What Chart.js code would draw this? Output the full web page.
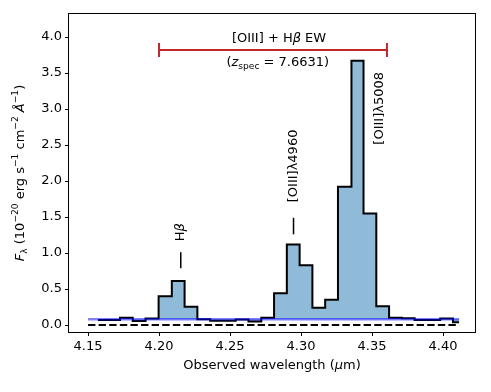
<!DOCTYPE html>
<html>
<head>
<meta charset="utf-8">
<script src="https://cdn.jsdelivr.net/npm/chart.js@4"></script>
<style>
  body { margin: 0; background: #fff; }
  canvas { display: block; }
</style>
</head>
<body>
<canvas id="spec" width="491" height="392"></canvas>
<script>
// bin edges (um) and flux per bin (1e-20 erg/s/cm2/A)
const binEdges = [4.157, 4.1725, 4.1815, 4.1905, 4.1997, 4.209, 4.218, 4.227, 4.236, 4.245,
  4.254, 4.263, 4.272, 4.281, 4.290, 4.299, 4.308, 4.317, 4.326, 4.3355, 4.344, 4.353, 4.362,
  4.371, 4.380, 4.389, 4.398, 4.407, 4.4113];
const flux = [0.07, 0.10, 0.055, 0.09, 0.40, 0.61, 0.255, 0.08, 0.06, 0.06, 0.075, 0.05, 0.10,
  0.44, 1.12, 0.83, 0.24, 0.35, 1.92, 3.67, 1.55, 0.26, 0.10, 0.095, 0.07, 0.07, 0.09, 0.04];
const contX = [4.15, 4.4113];
const contY = [0.08, 0.08];
const zeroY = [0, 0];
const xTicks = [4.15, 4.20, 4.25, 4.30, 4.35, 4.40];
const yTicks = [0, 0.5, 1, 1.5, 2, 2.5, 3, 3.5, 4];
const ewRange = [4.20, 4.3605];
const ewLevel = 3.82;
const lines = [
  { name: 'Hβ', x: 4.2153, labelY: 1.29, tick: [0.79, 1.01] },
  { name: '[OIII]λ4960', x: 4.2947, labelY: 2.21, tick: [1.26, 1.49] },
  { name: '[OIII]λ5008', x: 4.3553, labelY: 3.01, tick: null }
];

const FONT = 'DejaVu Sans';

const stepPts = flux.map((v, i) => ({ x: binEdges[i], y: v }));
stepPts.push({ x: binEdges[binEdges.length - 1], y: flux[flux.length - 1] });

// draws runs of mixed text (normal / italic / sup / sub) centred at 0,0
function drawRuns(ctx, runs, size) {
  const parts = runs.map(r => {
    const small = r.s === 'sup' || r.s === 'sub';
    const fs = small ? size * 0.7 : size;
    const font = (r.s === 'i' ? 'italic ' : '') + fs + 'px "' + FONT + '"';
    ctx.font = font;
    return { t: r.t, font, w: ctx.measureText(r.t).width,
      dy: r.s === 'sup' ? -size * 0.42 : r.s === 'sub' ? size * 0.25 : 0 };
  });
  const total = parts.reduce((a, p) => a + p.w, 0);
  let x = -total / 2;
  ctx.textBaseline = 'middle';
  ctx.textAlign = 'left';
  parts.forEach(p => {
    ctx.font = p.font;
    ctx.fillText(p.t, x, p.dy);
    x += p.w;
  });
}

const extras = {
  id: 'extras',
  afterDatasetsDraw(chart) {
    const { ctx, chartArea: a, scales: { x, y } } = chart;
    ctx.save();
    ctx.fillStyle = '#000';
    ctx.strokeStyle = '#000';

    // EW bar
    const x0 = x.getPixelForValue(ewRange[0]), x1 = x.getPixelForValue(ewRange[1]);
    const yb = y.getPixelForValue(ewLevel);
    ctx.strokeStyle = '#c0282d';
    ctx.lineWidth = 2;
    ctx.beginPath();
    ctx.moveTo(x0, yb); ctx.lineTo(x1, yb);
    ctx.moveTo(x0, yb - 7); ctx.lineTo(x0, yb + 7);
    ctx.moveTo(x1, yb - 7); ctx.lineTo(x1, yb + 7);
    ctx.stroke();

    ctx.save();
    ctx.translate(x.getPixelForValue(4.2845), y.getPixelForValue(3.98));
    drawRuns(ctx, [{ t: '[OIII] + H', s: 'n' }, { t: 'β', s: 'i' }, { t: ' EW', s: 'n' }], 13);
    ctx.restore();
    ctx.save();
    ctx.translate(x.getPixelForValue(4.2836), y.getPixelForValue(3.64));
    drawRuns(ctx, [{ t: '(', s: 'n' }, { t: 'z', s: 'i' }, { t: 'spec', s: 'sub' }, { t: ' = 7.6631)', s: 'n' }], 13);
    ctx.restore();

    // line labels
    ctx.strokeStyle = '#000';
    ctx.lineWidth = 1.5;
    lines.forEach(l => {
      const px = x.getPixelForValue(l.x);
      if (l.tick) {
        ctx.beginPath();
        ctx.moveTo(px, y.getPixelForValue(l.tick[0]));
        ctx.lineTo(px, y.getPixelForValue(l.tick[1]));
        ctx.stroke();
      }
      ctx.save();
      ctx.translate(px, y.getPixelForValue(l.labelY));
      ctx.rotate(-Math.PI / 2);
      if (l.name === 'Hβ') {
        drawRuns(ctx, [{ t: 'H', s: 'n' }, { t: 'β', s: 'i' }], 13);
      } else {
        drawRuns(ctx, [{ t: l.name, s: 'n' }], 13);
      }
      ctx.restore();
    });

    // spines
    ctx.strokeStyle = '#000';
    ctx.lineWidth = 1;
    ctx.strokeRect(Math.round(a.left) - 0.5, Math.round(a.top) - 0.5,
      Math.round(a.right - a.left) + 1, Math.round(a.bottom - a.top) + 1);

    // axis titles
    ctx.save();
    ctx.translate((a.left + a.right) / 2, 366);
    drawRuns(ctx, [{ t: 'Observed wavelength (', s: 'n' }, { t: 'μ', s: 'i' }, { t: 'm)', s: 'n' }], 13);
    ctx.restore();
    ctx.save();
    ctx.translate(21, (a.top + a.bottom) / 2);
    ctx.rotate(-Math.PI / 2);
    drawRuns(ctx, [
      { t: 'F', s: 'i' }, { t: 'λ', s: 'sub' }, { t: ' (10', s: 'n' }, { t: '−20', s: 'sup' },
      { t: ' erg s', s: 'n' }, { t: '−1', s: 'sup' }, { t: ' cm', s: 'n' }, { t: '−2', s: 'sup' },
      { t: ' ', s: 'n' }, { t: 'Å', s: 'i' }, { t: '−1', s: 'sup' }, { t: ')', s: 'n' }
    ], 13);
    ctx.restore();

    ctx.restore();
  }
};

new Chart(document.getElementById('spec'), {
  type: 'line',
  data: {
    datasets: [
      {
        data: contX.map((v, i) => ({ x: v, y: contY[i] })),
        borderColor: 'rgba(0,0,255,0.5)',
        borderWidth: 2.5,
        pointRadius: 0,
        fill: false,
        order: 0
      },
      {
        data: contX.map((v, i) => ({ x: v, y: zeroY[i] })),
        borderColor: '#000',
        borderWidth: 2,
        borderDash: [7.4, 3.2],
        pointRadius: 0,
        fill: false,
        order: 1
      },
      {
        data: stepPts,
        stepped: 'before',
        borderColor: '#000',
        borderWidth: 2,
        pointRadius: 0,
        fill: { value: contY[0] },
        backgroundColor: '#8fbbd9',
        order: 2
      }
    ]
  },
  options: {
    responsive: false,
    animation: false,
    devicePixelRatio: 1,
    layout: { padding: { top: 14, right: 16, left: 0, bottom: 0 } },
    plugins: { legend: { display: false }, tooltip: { enabled: false } },
    scales: {
      x: {
        type: 'linear',
        min: 4.1366,
        max: 4.4225,
        afterFit: s => { s.height = 60; },
        afterBuildTicks: s => { s.ticks = xTicks.map(v => ({ value: v })); },
        ticks: {
          callback: v => v.toFixed(2),
          font: { family: FONT, size: 13 },
          color: '#000',
          padding: 3,
          maxRotation: 0,
          autoSkip: false
        },
        grid: { drawOnChartArea: false, tickLength: 4, color: '#000' },
        border: { display: false }
      },
      y: {
        type: 'linear',
        min: -0.097,
        max: 4.32,
        afterFit: s => { s.width = 69; },
        afterBuildTicks: s => { s.ticks = yTicks.map(v => ({ value: v })); },
        ticks: {
          callback: v => v.toFixed(1),
          font: { family: FONT, size: 13 },
          color: '#000',
          padding: 3,
          autoSkip: false
        },
        grid: { drawOnChartArea: false, tickLength: 4, color: '#000' },
        border: { display: false }
      }
    }
  },
  plugins: [extras]
});
</script>
</body>
</html>
